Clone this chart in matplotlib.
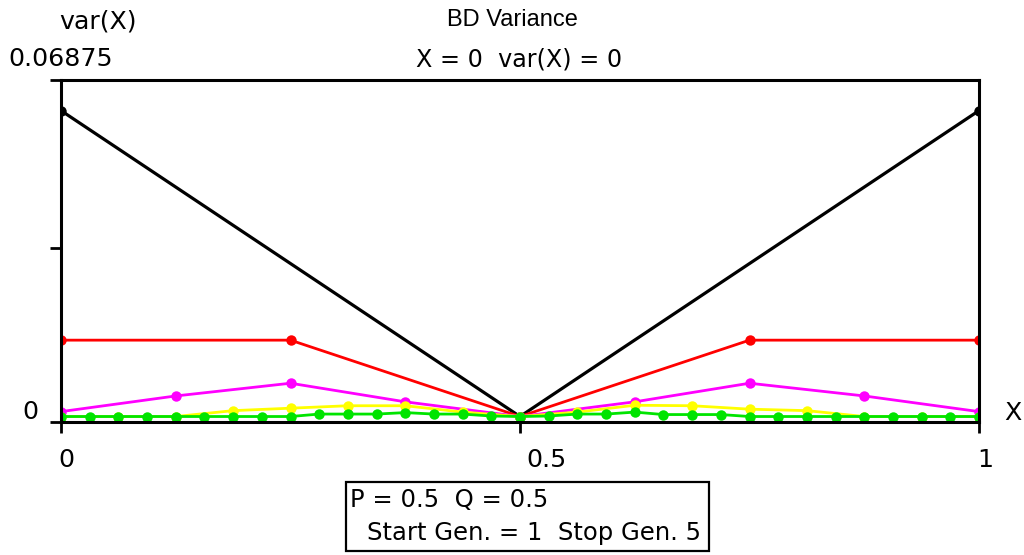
import numpy as np
import matplotlib
matplotlib.use("Agg")
import matplotlib.pyplot as plt
from matplotlib.patches import Rectangle

plt.rcParams['font.family'] = ['DejaVu Sans']

# ---- data ----
x_gen1 = np.linspace(0, 1, 3)
var_gen1 = [0.0625, 0.0, 0.0625]

x_gen2 = np.linspace(0, 1, 5)
var_gen2 = [0.0156, 0.0156, 0.0, 0.0156, 0.0156]

x_gen3 = np.linspace(0, 1, 9)
var_gen3 = [0.0010, 0.0042, 0.0068, 0.0030, 0.0, 0.0030, 0.0068, 0.0042, 0.0010]

x_gen4 = np.linspace(0, 1, 17)
var_gen4 = [0.0, 0.0, 0.0, 0.0012, 0.0017, 0.0022, 0.0022, 0.0009, 0.0,
            0.0009, 0.0023, 0.0022, 0.0015, 0.0012, 0.0, 0.0, 0.0]

x_gen5 = np.linspace(0, 1, 33)
var_gen5 = [0.0, 0.0, 0.0, 0.0, 0.0, 0.0, 0.0, 0.0, 0.0,
            0.0005, 0.0005, 0.0005, 0.0008, 0.0005, 0.0005, 0.0001, 0.0,
            0.0001, 0.0005, 0.0005, 0.0009, 0.0004, 0.0004, 0.0004, 0.0,
            0.0, 0.0, 0.0, 0.0, 0.0, 0.0, 0.0, 0.0]

series = [
    (x_gen1, var_gen1, '#000000', 2.3),
    (x_gen2, var_gen2, '#ff0000', 2.0),
    (x_gen3, var_gen3, '#ff00ff', 2.0),
    (x_gen4, var_gen4, '#ffff00', 2.0),
    (x_gen5, var_gen5, '#00e400', 2.0),
]

y_max = 0.06875
y_min = -0.00106
x_tick_labels = ['0', '0.5', '1']
x_tick_pos = [0, 0.5, 1]

W, H = 1024, 555
DPI = 100
fig = plt.figure(figsize=(W / DPI, H / DPI), dpi=DPI)

def fx(px):
    return px / W

def fy(py):
    return 1 - py / H

ax = fig.add_axes([fx(61), fy(421.7), fx(979) - fx(61), fy(80) - fy(421.7)])
for xs, ys, c, lw in series:
    ax.plot(xs, ys, color=c, lw=lw, marker='o', markersize=7.5,
            markeredgewidth=0, solid_capstyle='round')

ax.set_xlim(0, 1)
ax.set_ylim(y_min, y_max)
for s in ax.spines.values():
    s.set_linewidth(2.2)
    s.set_color('black')
ax.set_xticks(x_tick_pos)
ax.set_yticks([y_min, 0.034375, y_max])
ax.set_xticklabels([])
ax.set_yticklabels([])
ax.tick_params(axis='both', direction='out', length=8, width=2, color='black')

lab_font = dict(family=['DejaVu Sans'], fontsize=18.2)
title_font = dict(family=['Liberation Sans'], fontsize=17)
head_font = dict(family=['DejaVu Sans'], fontsize=17.2)
box_font = dict(family=['DejaVu Sans'], fontsize=17.5)

# axis labels / tick labels
fig.text(fx(98.5), fy(22), 'var(X)', ha='center', va='center', **lab_font)
fig.text(fx(8), fy(59), '0.06875', ha='left', va='center', **lab_font)
fig.text(fx(30), fy(412), '0', ha='center', va='center', **lab_font)
fig.text(fx(1013), fy(413), 'X', ha='center', va='center', **lab_font)
for lab, px in zip(x_tick_labels, [66, 547, 985]):
    fig.text(fx(px), fy(460), lab, ha='center', va='center', **lab_font)

# header
fig.text(fx(512.5), fy(20), 'BD Variance', ha='center', va='center', **title_font)
fig.text(fx(519), fy(60), 'X = 0  var(X) = 0', ha='center', va='center', **head_font)

# parameter box
box = Rectangle((fx(346), fy(551)), fx(709) - fx(346), fy(482) - fy(551),
                transform=fig.transFigure, fill=False, edgecolor='black', lw=1.6)
fig.add_artist(box)
fig.text(fx(350), fy(500), 'P = 0.5  Q = 0.5', ha='left', va='center', **box_font)
fig.text(fx(367), fy(533), 'Start Gen. = 1  Stop Gen. 5', ha='left', va='center', **box_font)

fig.savefig('out.png', dpi=DPI)
